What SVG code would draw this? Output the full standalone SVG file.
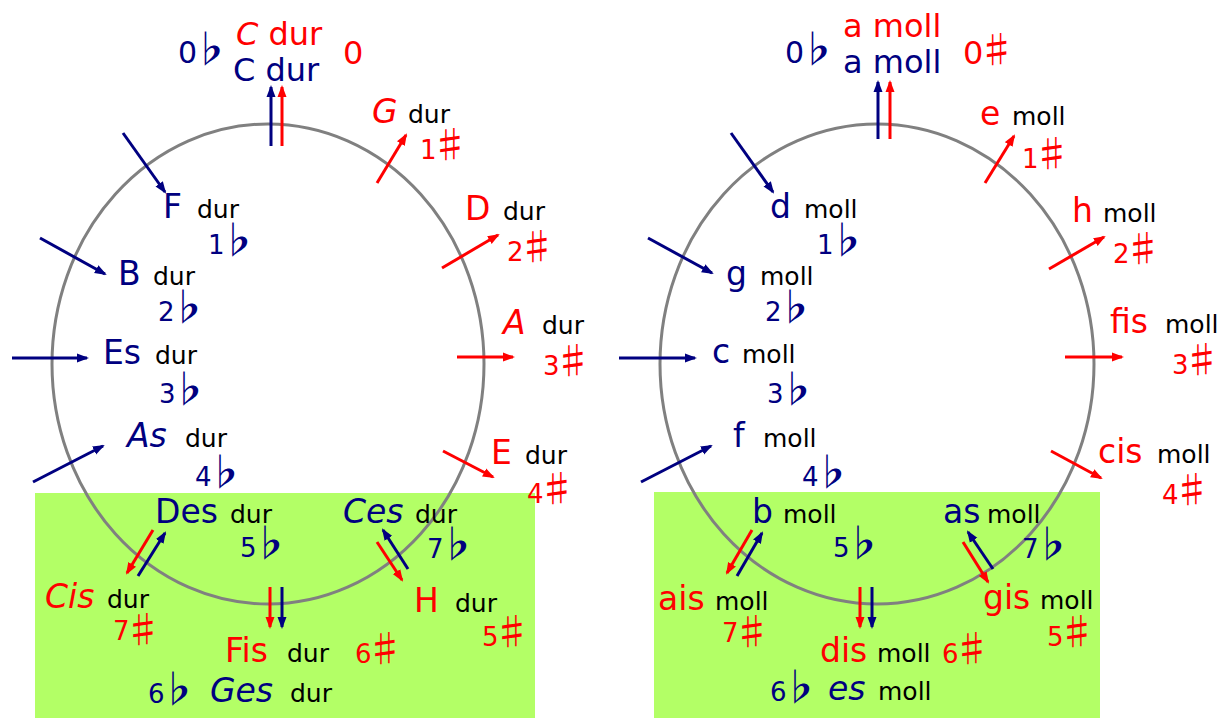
<svg xmlns="http://www.w3.org/2000/svg" width="1222" height="718" viewBox="0 0 1222 718">
<defs>
<style>
text{font-family:"DejaVu Sans","Liberation Sans",sans-serif}
.bg{fill:#b3ff66}
.ring{fill:none;stroke:#808080;stroke-width:3}
.big{font-size:33px}
.top{font-size:32px}
.sm{font-size:25px;fill:#000}
.num{font-size:26px;letter-spacing:-5px}
.sym{font-size:37px;font-family:"Noto Sans CJK JP","DejaVu Sans",sans-serif}
.b .sym{font-weight:bold}
.r{fill:#ff0000}
.b{fill:#000080}
.it{font-style:italic}
.lr{stroke:#ff0000;stroke-width:3;fill:none;marker-end:url(#ar)}
.lb{stroke:#000080;stroke-width:3;fill:none;marker-end:url(#ab)}
</style>
<marker id="ar" markerUnits="userSpaceOnUse" markerWidth="12" markerHeight="10" viewBox="0 0 12 10" refX="10" refY="5" orient="auto"><path d="M0,0.5 L12,5 L0,9.5 z" fill="#ff0000"/></marker>
<marker id="ab" markerUnits="userSpaceOnUse" markerWidth="12" markerHeight="10" viewBox="0 0 12 10" refX="10" refY="5" orient="auto"><path d="M0,0.5 L12,5 L0,9.5 z" fill="#000080"/></marker>
</defs>
<rect width="1222" height="718" fill="#fff"/>
<rect class="bg" x="35" y="493" width="500" height="225"/>
<rect class="bg" x="654" y="492" width="446" height="226"/>
<ellipse id="ring-dur" class="ring" cx="268" cy="364" rx="216" ry="240"/>
<ellipse id="ring-moll" class="ring" cx="877" cy="364" rx="217" ry="240"/>

<g id="connectors">
<line class="lb" x1="271" y1="146" x2="271" y2="87"/>
<line class="lr" x1="282" y1="146" x2="282" y2="87"/>
<line class="lr" x1="377" y1="183" x2="406" y2="135"/>
<line class="lr" x1="442" y1="268" x2="498" y2="235"/>
<line class="lr" x1="457" y1="357" x2="513" y2="357"/>
<line class="lr" x1="443" y1="451" x2="493" y2="477"/>
<line class="lb" x1="123" y1="133" x2="165" y2="192"/>
<line class="lb" x1="40" y1="238" x2="105" y2="274"/>
<line class="lb" x1="12" y1="358" x2="87" y2="358"/>
<line class="lb" x1="33" y1="482" x2="103" y2="446"/>
<line class="lr" x1="153" y1="530" x2="127" y2="573"/>
<line class="lb" x1="138" y1="576" x2="165" y2="533"/>
<line class="lr" x1="377" y1="542" x2="402" y2="580"/>
<line class="lb" x1="408" y1="569" x2="383" y2="530"/>
<line class="lr" x1="270" y1="587" x2="270" y2="627"/>
<line class="lb" x1="282" y1="587" x2="282" y2="627"/>

<line class="lb" x1="878" y1="139" x2="878" y2="82"/>
<line class="lr" x1="890" y1="139" x2="890" y2="82"/>
<line class="lr" x1="985" y1="183" x2="1014" y2="136"/>
<line class="lr" x1="1049" y1="269" x2="1104" y2="237"/>
<line class="lr" x1="1065" y1="357" x2="1122" y2="357"/>
<line class="lr" x1="1051" y1="451" x2="1101" y2="478"/>
<line class="lb" x1="731" y1="133" x2="773" y2="192"/>
<line class="lb" x1="648" y1="238" x2="712" y2="273"/>
<line class="lb" x1="619" y1="358" x2="695" y2="358"/>
<line class="lb" x1="641" y1="482" x2="711" y2="446"/>
<line class="lr" x1="752" y1="530" x2="727" y2="573"/>
<line class="lb" x1="737" y1="576" x2="762" y2="533"/>
<line class="lr" x1="963" y1="542" x2="988" y2="582"/>
<line class="lb" x1="993" y1="569" x2="968" y2="532"/>
<line class="lr" x1="860" y1="587" x2="860" y2="627"/>
<line class="lb" x1="872" y1="587" x2="872" y2="627"/>
</g>

<!-- Dur circle -->
<g id="key-C">
<text class="top r" x="236" y="45"><tspan class="it">C</tspan> dur</text>
<text class="top r" x="343" y="64">0</text>
<text class="top b" x="233" y="81">C dur</text>
<text class="b" x="178" y="63"><tspan class="num" style="font-size:30px">0</tspan><tspan class="sym">♭</tspan></text>
</g>
<g id="key-G"><text class="big r it" x="372" y="123">G</text><text class="sm" x="408" y="123">dur</text><text class="r" x="420" y="159"><tspan class="num">1</tspan><tspan class="sym">♯</tspan></text></g>
<g id="key-D"><text class="big r" x="465" y="220">D</text><text class="sm" x="503" y="220">dur</text><text class="r" x="507" y="261"><tspan class="num">2</tspan><tspan class="sym">♯</tspan></text></g>
<g id="key-A"><text class="big r it" x="503" y="334">A</text><text class="sm" x="542" y="334">dur</text><text class="r" x="543" y="375"><tspan class="num">3</tspan><tspan class="sym">♯</tspan></text></g>
<g id="key-E"><text class="big r" x="491" y="464">E</text><text class="sm" x="525" y="464">dur</text><text class="r" x="527" y="503"><tspan class="num">4</tspan><tspan class="sym">♯</tspan></text></g>
<g id="key-F"><text class="big b" x="163" y="218">F</text><text class="sm" x="197" y="218">dur</text><text class="b" x="208" y="254"><tspan class="num">1</tspan><tspan class="sym">♭</tspan></text></g>
<g id="key-B"><text class="big b" x="118" y="285">B</text><text class="sm" x="153" y="285">dur</text><text class="b" x="158" y="321"><tspan class="num">2</tspan><tspan class="sym">♭</tspan></text></g>
<g id="key-Es"><text class="big b" x="103" y="364">Es</text><text class="sm" x="155" y="364">dur</text><text class="b" x="159" y="403"><tspan class="num">3</tspan><tspan class="sym">♭</tspan></text></g>
<g id="key-As"><text class="big b it" x="127" y="447">As</text><text class="sm" x="185" y="447">dur</text><text class="b" x="195" y="486"><tspan class="num">4</tspan><tspan class="sym">♭</tspan></text></g>
<g id="key-Des"><text class="big b" x="155" y="523">Des</text><text class="sm" x="230" y="523">dur</text><text class="b" x="240" y="557"><tspan class="num">5</tspan><tspan class="sym">♭</tspan></text></g>
<g id="key-Ces"><text class="big b it" x="343" y="523">Ces</text><text class="sm" x="415" y="523">dur</text><text class="b" x="427" y="558"><tspan class="num">7</tspan><tspan class="sym">♭</tspan></text></g>
<g id="key-Cis"><text class="big r it" x="45" y="608">Cis</text><text class="sm" x="107" y="608">dur</text><text class="r" x="113" y="644"><tspan class="num" dy="-4">7</tspan><tspan class="sym" dy="4">♯</tspan></text></g>
<g id="key-H"><text class="big r" x="414" y="612">H</text><text class="sm" x="455" y="612">dur</text><text class="r" x="482" y="646"><tspan class="num">5</tspan><tspan class="sym">♯</tspan></text></g>
<g id="key-Fis"><text class="big r" x="225" y="662">Fis</text><text class="sm" x="287" y="662">dur</text><text class="r" x="355" y="663"><tspan class="num">6</tspan><tspan class="sym">♯</tspan></text></g>
<g id="key-Ges"><text class="b" x="148" y="703"><tspan class="num">6</tspan><tspan class="sym">♭</tspan></text><text class="big b it" x="210" y="702">Ges</text><text class="sm" x="290" y="702">dur</text></g>

<!-- Moll circle -->
<g id="key-a">
<text class="top r" x="843" y="37">a moll</text>
<text class="top r" x="963" y="64"><tspan style="letter-spacing:-5px">0</tspan><tspan class="sym">♯</tspan></text>
<text class="top b" x="843" y="73">a moll</text>
<text class="b" x="785" y="63"><tspan class="num" style="font-size:30px">0</tspan><tspan class="sym">♭</tspan></text>
</g>
<g id="key-e"><text class="big r" x="980" y="125">e</text><text class="sm" x="1012" y="125">moll</text><text class="r" x="1022" y="168"><tspan class="num">1</tspan><tspan class="sym">♯</tspan></text></g>
<g id="key-h"><text class="big r" x="1072" y="222">h</text><text class="sm" x="1103" y="222">moll</text><text class="r" x="1113" y="263"><tspan class="num">2</tspan><tspan class="sym">♯</tspan></text></g>
<g id="key-fis"><text class="big r" x="1110" y="333">fis</text><text class="sm" x="1165" y="333">moll</text><text class="r" x="1172" y="374"><tspan class="num">3</tspan><tspan class="sym">♯</tspan></text></g>
<g id="key-cis"><text class="big r" x="1098" y="463">cis</text><text class="sm" x="1157" y="463">moll</text><text class="r" x="1162" y="504"><tspan class="num">4</tspan><tspan class="sym">♯</tspan></text></g>
<g id="key-d"><text class="big b" x="770" y="218">d</text><text class="sm" x="804" y="218">moll</text><text class="b" x="817" y="254"><tspan class="num">1</tspan><tspan class="sym">♭</tspan></text></g>
<g id="key-g"><text class="big b" x="726" y="285">g</text><text class="sm" x="760" y="285">moll</text><text class="b" x="765" y="321"><tspan class="num">2</tspan><tspan class="sym">♭</tspan></text></g>
<g id="key-c"><text class="big b" x="712" y="363">c</text><text class="sm" x="742" y="363">moll</text><text class="b" x="767" y="403"><tspan class="num">3</tspan><tspan class="sym">♭</tspan></text></g>
<g id="key-f"><text class="big b" x="733" y="447">f</text><text class="sm" x="763" y="447">moll</text><text class="b" x="802" y="486"><tspan class="num">4</tspan><tspan class="sym">♭</tspan></text></g>
<g id="key-b"><text class="big b" x="752" y="523">b</text><text class="sm" x="783" y="523">moll</text><text class="b" x="833" y="557"><tspan class="num">5</tspan><tspan class="sym">♭</tspan></text></g>
<g id="key-as"><text class="big b" x="943" y="523">as</text><text class="sm" x="987" y="523">moll</text><text class="b" x="1022" y="558"><tspan class="num">7</tspan><tspan class="sym">♭</tspan></text></g>
<g id="key-ais"><text class="big r" x="658" y="610">ais</text><text class="sm" x="715" y="610">moll</text><text class="r" x="722" y="646"><tspan class="num" dy="-4">7</tspan><tspan class="sym" dy="4">♯</tspan></text></g>
<g id="key-gis"><text class="big r" x="983" y="609">gis</text><text class="sm" x="1040" y="609">moll</text><text class="r" x="1047" y="646"><tspan class="num">5</tspan><tspan class="sym">♯</tspan></text></g>
<g id="key-dis"><text class="big r" x="820" y="662">dis</text><text class="sm" x="877" y="662">moll</text><text class="r" x="942" y="663"><tspan class="num">6</tspan><tspan class="sym">♯</tspan></text></g>
<g id="key-es"><text class="b" x="770" y="701"><tspan class="num">6</tspan><tspan class="sym">♭</tspan></text><text class="big b it" x="828" y="700">es</text><text class="sm" x="878" y="700">moll</text></g>
</svg>
